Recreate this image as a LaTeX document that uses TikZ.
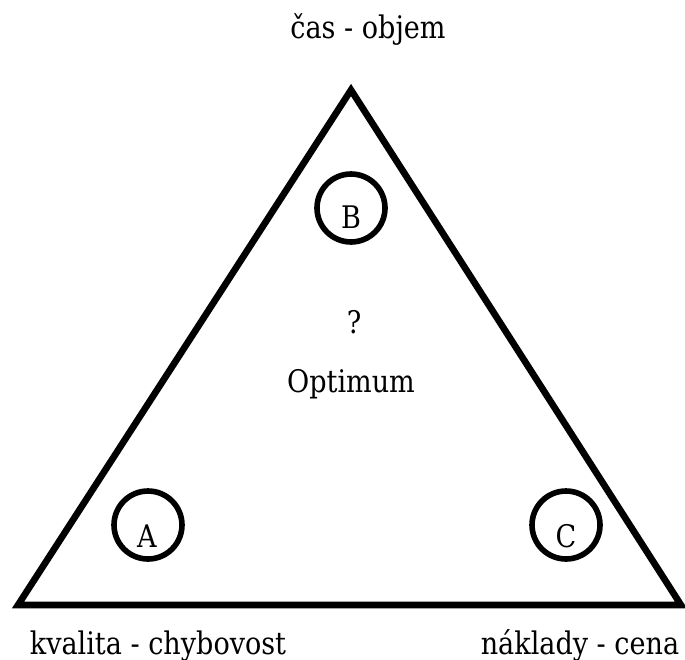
\documentclass[tikz,border=0pt]{standalone}
\usepackage{graphicx}
\usepackage{fontspec}
\setmainfont{DejaVu Serif}
\usetikzlibrary{calc}

% taller letters, closer to the reference face
\newcommand{\tall}[1]{\scalebox{1}[1.15]{#1}}

\tikzset{
    label text/.style={font=\fontsize{15.4}{18}\selectfont, inner sep=0pt, anchor=base},
    corner mark/.style={circle, draw, line width=3.2pt, minimum size=1.36cm, inner sep=0pt},
}

\begin{document}
\begin{tikzpicture}[x=0.02cm, y=-0.02cm]

    % Page frame (pixel grid of the reference)
    \useasboundingbox (0,0) rectangle (685,659);

    % Triangle corners
    \coordinate (apex) at (351,90);
    \coordinate (left) at (18,605);
    \coordinate (right) at (681,605);
    \draw[line width=3.8pt, line join=miter] (apex) -- (right) -- (left) -- cycle;

    % Corner markers
    \node[corner mark] (circB) at (351,208) {};
    \node[corner mark] (circA) at (148,525) {};
    \node[corner mark] (circC) at (566,525) {};
    \node[label text] (letB) at (351,228) {\tall{B}};
    \node[label text] (letA) at (147,547) {\tall{A}};
    \node[label text] (letC) at (566,547) {\tall{C}};

    % Centre annotation
    \node[label text] (question) at (354,333) {\tall{?}};
    \node[label text] (optimum) at (351,392) {\tall{Optimum}};

    % Vertex labels
    \node[label text] (top) at (368,38) {\tall{čas - objem}};
    \node[label text] (bl) at (158,654) {\tall{kvalita - chybovost}};
    \node[label text] (br) at (580,654) {\tall{náklady - cena}};

\end{tikzpicture}
\end{document}
